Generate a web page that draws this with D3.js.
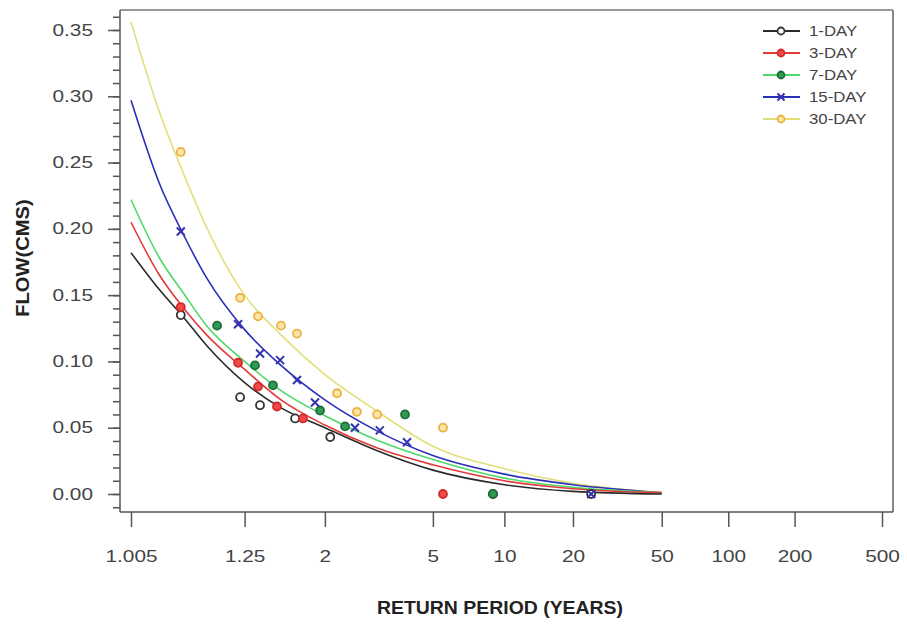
<!DOCTYPE html>
<html>
<head>
<meta charset="utf-8">
<script src="https://cdn.jsdelivr.net/npm/d3@7"></script>
<style>
  html, body { margin: 0; padding: 0; background: #ffffff; }
  svg { display: block; font-family: "Liberation Sans", Arial, sans-serif; }
</style>
</head>
<body>
<svg id="chart" width="907" height="627"></svg>
<script>
// Return periods (years) at which each fitted frequency curve is sampled
const curvePeriods = [1.005, 1.02, 1.05, 1.1, 1.25, 1.5, 2, 3, 5, 10, 20, 50];

// Fitted low-flow frequency curves (CMS) at curvePeriods
const curve1Day  = [0.182, 0.154, 0.133, 0.112, 0.084, 0.065, 0.050, 0.033, 0.018, 0.007, 0.002, 0.000];
const curve3Day  = [0.205, 0.165, 0.140, 0.120, 0.094, 0.071, 0.052, 0.035, 0.022, 0.010, 0.004, 0.001];
const curve7Day  = [0.222, 0.178, 0.151, 0.127, 0.100, 0.078, 0.059, 0.041, 0.026, 0.012, 0.005, 0.001];
const curve15Day = [0.297, 0.234, 0.195, 0.163, 0.124, 0.097, 0.071, 0.048, 0.029, 0.015, 0.007, 0.001];
const curve30Day = [0.356, 0.288, 0.241, 0.201, 0.150, 0.120, 0.090, 0.063, 0.036, 0.019, 0.008, 0.001];

// Observed annual minimum flows: [return period, flow]
const obs1Day  = [[1.045, 0.135], [1.227, 0.073], [1.341, 0.067], [1.633, 0.057], [2.08, 0.043], [8.93, 0], [24.1, 0]];
const obs3Day  = [[1.045, 0.141], [1.217, 0.099], [1.328, 0.081], [1.466, 0.066], [1.718, 0.057], [5.5, 0]];
const obs7Day  = [[1.132, 0.127], [1.309, 0.097], [1.434, 0.082], [1.932, 0.063], [2.33, 0.051], [3.87, 0.060], [8.93, 0]];
const obs15Day = [[1.045, 0.198], [1.217, 0.128], [1.341, 0.106], [1.492, 0.101], [1.653, 0.086], [1.864, 0.069], [2.52, 0.050], [3.10, 0.048], [3.94, 0.039], [24.1, 0]];
const obs30Day = [[1.045, 0.258], [1.227, 0.148], [1.328, 0.134], [1.50, 0.127], [1.653, 0.121], [2.19, 0.076], [2.56, 0.062], [3.03, 0.060], [5.5, 0.050]];

const seriesNames = ["1-DAY", "3-DAY", "7-DAY", "15-DAY", "30-DAY"];

// Axis ticks
const xTickPeriods = [1.005, 1.25, 2, 5, 10, 20, 50, 100, 200, 500];
const xTickLabels  = ["1.005", "1.25", "2", "5", "10", "20", "50", "100", "200", "500"];
const yTicks = [0, 0.05, 0.10, 0.15, 0.20, 0.25, 0.30, 0.35];

// ---- styling ----
const styles = [
  { line: "#2b2b2b", stroke: "#333333", fill: "#ffffff", shape: "circle" },
  { line: "#e23b3b", stroke: "#d42a2a", fill: "#ef4b4b", shape: "circle" },
  { line: "#4fd86a", stroke: "#1f6e3c", fill: "#2f9a52", shape: "circle" },
  { line: "#2a2fb8", stroke: "#3533b0", fill: "none",    shape: "cross" },
  { line: "#e2de7a", stroke: "#eeb040", fill: "#fbe6a8", shape: "circle" }
];
const tickFont = 16, textStretch = 1.3;

const curves = [curve1Day, curve3Day, curve7Day, curve15Day, curve30Day];
const observed = [obs1Day, obs3Day, obs7Day, obs15Day, obs30Day];

// Gumbel reduced variate of the non-exceedance return period
const gumbel = T => -Math.log(-Math.log(1 - 1 / T));

const svg = d3.select("#chart");
const frame = { left: 120, right: 893, top: 10, bottom: 512 };

const xg = d3.scaleLinear()
  .domain([gumbel(1.005), gumbel(500)])
  .range([131, 882]);
const x = T => xg(gumbel(T));

const y = d3.scaleLinear()
  .domain([0, 0.35])
  .range([494, 30]);

// frame lines
svg.append("line").attr("x1", frame.left).attr("x2", frame.right)
  .attr("y1", frame.top).attr("y2", frame.top)
  .attr("stroke", "#777").attr("stroke-width", 1.5);
svg.append("line").attr("x1", frame.right).attr("x2", frame.right)
  .attr("y1", frame.top).attr("y2", frame.bottom)
  .attr("stroke", "#888").attr("stroke-width", 2);
svg.append("line").attr("x1", frame.left).attr("x2", frame.left)
  .attr("y1", frame.top).attr("y2", frame.bottom)
  .attr("stroke", "#555").attr("stroke-width", 1.5);
svg.append("line").attr("x1", frame.left).attr("x2", frame.right)
  .attr("y1", frame.bottom).attr("y2", frame.bottom)
  .attr("stroke", "#555").attr("stroke-width", 1.5);

// x axis
const xAxis = d3.axisBottom(xg)
  .tickValues(xTickPeriods.map(gumbel))
  .tickFormat((d, i) => xTickLabels[i])
  .tickSize(15)
  .tickPadding(24);
const gx = svg.append("g")
  .attr("transform", `translate(0,${frame.bottom})`)
  .call(xAxis);
gx.select(".domain").remove();
gx.selectAll(".tick line").attr("stroke", "#555").attr("stroke-width", 1.5);
gx.selectAll(".tick text").attr("fill", "#444").attr("font-size", tickFont)
  .attr("transform", `scale(${textStretch},1)`);

// y axis, minor ticks every 0.01
const minorTicks = d3.range(-1, 37).map(i => i / 100).filter(v => y(v) <= frame.bottom && y(v) >= frame.top);
const gyMinor = svg.append("g")
  .attr("transform", `translate(${frame.left},0)`)
  .call(d3.axisLeft(y).tickValues(minorTicks).tickSize(7).tickFormat(""));
gyMinor.select(".domain").remove();
gyMinor.selectAll(".tick line").attr("stroke", "#555").attr("stroke-width", 1.5);

const gy = svg.append("g")
  .attr("transform", `translate(${frame.left},0)`)
  .call(d3.axisLeft(y).tickValues(yTicks).tickSize(12).tickFormat(d3.format(".2f")));
gy.select(".domain").remove();
gy.selectAll(".tick line").attr("stroke", "#555").attr("stroke-width", 1.5);
gy.selectAll(".tick text").attr("fill", "#444").attr("font-size", tickFont)
  .attr("x", -27 / textStretch)
  .attr("transform", `scale(${textStretch},1)`);

// axis titles
svg.append("text")
  .attr("transform", "translate(500,614) scale(1.08,1)")
  .attr("text-anchor", "middle")
  .attr("font-size", 18).attr("font-weight", "bold").attr("fill", "#222")
  .text("RETURN PERIOD (YEARS)");
svg.append("text")
  .attr("transform", "translate(29,258) rotate(-90) scale(1.12,1)")
  .attr("text-anchor", "middle")
  .attr("font-size", 18).attr("font-weight", "bold").attr("fill", "#222")
  .text("FLOW(CMS)");

// fitted curves
const line = d3.line()
  .x(d => x(d[0]))
  .y(d => y(d[1]))
  .curve(d3.curveMonotoneX);

const curveOrder = [4, 3, 2, 1, 0];
curveOrder.forEach(k => {
  const pts = curvePeriods.map((T, i) => [T, curves[k][i]]);
  svg.append("path")
    .datum(pts)
    .attr("fill", "none")
    .attr("stroke", styles[k].line)
    .attr("stroke-width", 1.6)
    .attr("d", line);
});

// markers
function marker(g, cx, cy, st, r) {
  if (st.shape === "cross") {
    g.append("path")
      .attr("d", `M${cx - r},${cy - r}L${cx + r},${cy + r}M${cx - r},${cy + r}L${cx + r},${cy - r}`)
      .attr("stroke", st.stroke).attr("stroke-width", 2).attr("fill", "none");
  } else {
    g.append("circle")
      .attr("cx", cx).attr("cy", cy).attr("r", r)
      .attr("fill", st.fill).attr("stroke", st.stroke).attr("stroke-width", 1.8);
  }
}

[0, 1, 2, 3, 4].forEach(k => {
  const g = svg.append("g");
  observed[k].forEach(d => marker(g, x(d[0]), y(d[1]), styles[k], 4));
});

// legend
const legend = svg.append("g");
seriesNames.forEach((name, k) => {
  const ly = 31 + k * 22;
  legend.append("line")
    .attr("x1", 763).attr("x2", 800).attr("y1", ly).attr("y2", ly)
    .attr("stroke", styles[k].line).attr("stroke-width", 1.8);
  marker(legend, 781, ly, styles[k], 3.5);
  legend.append("text")
    .attr("transform", `translate(809,${ly}) scale(1.12,1)`)
    .attr("dy", "0.35em")
    .attr("font-size", 15).attr("fill", "#444")
    .text(name);
});
</script>
</body>
</html>
